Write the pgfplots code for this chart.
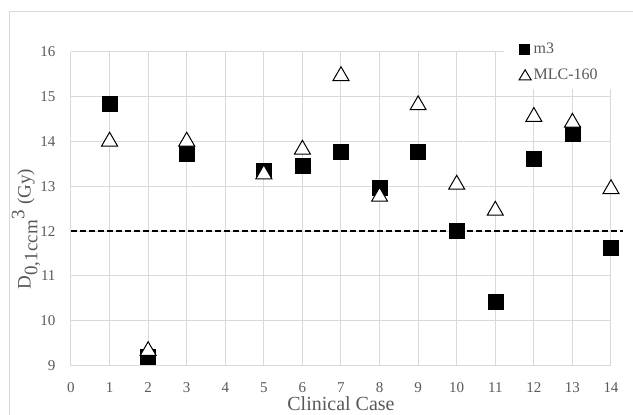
\documentclass[border=0pt]{standalone}
\usepackage{fontspec}
\setmainfont{Liberation Serif}
\usepackage{pgfplots}
\pgfplotsset{compat=1.18}
\definecolor{txt}{HTML}{595959}
\definecolor{grd}{HTML}{D9D9D9}
\begin{document}
\begin{tikzpicture}[x=1pt,y=1pt]
\useasboundingbox (0,0) rectangle (633,415);
\draw[grd, line width=1pt] (9,-20) rectangle (650,403);
\begin{axis}[
  at={(71pt,49.3pt)}, anchor=south west,
  scale only axis, width=540pt, height=314pt,
  xmin=0, xmax=14, ymin=9, ymax=16,
  xtick={0,...,14}, ytick={9,...,16},
  grid=major, major grid style={grd, line width=1pt},
  axis line style={draw=none},
  major tick length=0pt,
  clip=false,
  /pgf/number format/assume math mode=true,
  tick label style={font=\fontsize{15}{18}\selectfont, text=txt},
  xticklabel style={yshift=-16pt, inner sep=1pt},
  yticklabel style={xshift=-12pt},
  xlabel={Clinical Case},
  xlabel style={at={(axis description cs:0.5,-0.143)}, anchor=base, inner sep=0pt, font=\fontsize{20}{24}\selectfont, text=txt},
  ylabel={D$_{\textrm{0,1ccm}}{}^{\textrm{3}}$ (Gy)},
  ylabel style={at={(axis description cs:-0.0833,0.435)}, anchor=center, font=\fontsize{19}{23}\selectfont, text=txt},
  legend style={at={(axis cs:11.6,16.24)}, anchor=north west, draw=none, fill=none, inner sep=0pt, row sep=10pt,
    nodes={inner sep=2pt, anchor=west}, font=\fontsize{16}{19}\selectfont, text=txt},
  legend cell align=left,
]
\fill[white] (axis cs:11.23,15.17) rectangle (axis cs:14.6,16.6);
\addplot[black, line width=2.5pt, dash pattern=on 6pt off 3pt, forget plot] coordinates {(0,12) (14.31,12)};
\addplot[only marks, mark=square*, mark size=7.5pt, mark options={fill=black, draw=black},
  legend image code/.code={\fill[black] (0pt,-5pt) rectangle (10pt,5pt);}]
  coordinates {(1,14.85) (2,9.19) (3,13.73) (5,13.35) (6,13.45) (7,13.77) (8,12.97) (9,13.77) (10,12.0) (11,10.43) (12,13.62) (13,14.18) (14,11.64)};
\addlegendentry{m3}
\addplot[only marks, mark=triangle*, mark size=9.2pt, mark options={fill=white, draw=black, line width=1pt},
  legend image code/.code={\draw[black, line width=1pt, fill=white] (0pt,-4.5pt) -- (12pt,-4.5pt) -- (6pt,5.5pt) -- cycle;}]
  coordinates {(1,14.0) (2,9.33) (3,14.0) (5,13.27) (6,13.82) (7,15.46) (8,12.77) (9,14.81) (10,13.04) (11,12.46) (12,14.55) (13,14.42) (14,12.94)};
\addlegendentry{MLC-160}
\end{axis}
\end{tikzpicture}
\end{document}
